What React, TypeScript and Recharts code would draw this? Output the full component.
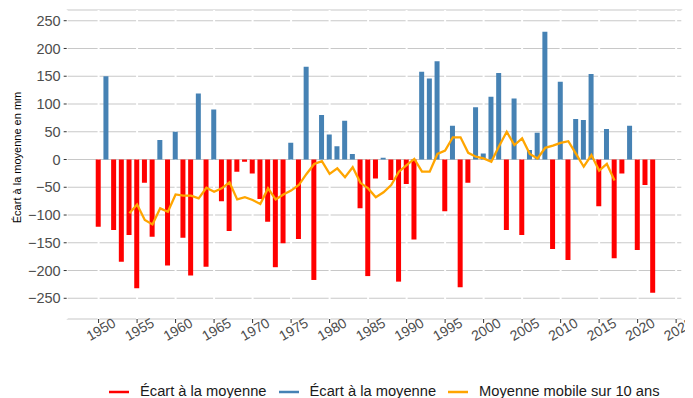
import React from 'react';
import { ComposedChart, Bar, Line, XAxis, YAxis, CartesianGrid, Legend } from 'recharts';

const FONT = '"Liberation Sans", Arial, Helvetica, sans-serif';

// Années (catégories) et écart à la moyenne en mm
const years = [
  1950, 1951, 1952, 1953, 1954, 1955, 1956, 1957, 1958, 1959,
  1960, 1961, 1962, 1963, 1964, 1965, 1966, 1967, 1968, 1969,
  1970, 1971, 1972, 1973, 1974, 1975, 1976, 1977, 1978, 1979,
  1980, 1981, 1982, 1983, 1984, 1985, 1986, 1987, 1988, 1989,
  1990, 1991, 1992, 1993, 1994, 1995, 1996, 1997, 1998, 1999,
  2000, 2001, 2002, 2003, 2004, 2005, 2006, 2007, 2008, 2009,
  2010, 2011, 2012, 2013, 2014, 2015, 2016, 2017, 2018, 2019,
  2020, 2021, 2022,
];

const ecart = [
  -121, 150, -127, -184, -136, -232, -42, -139, 35, -191,
  50, -141, -209, 119, -193, 90, -75, -129, -22, -4,
  -25, -71, -112, -194, -151, 30, -143, 167, -217, 80,
  45, 24, 70, 10, -88, -210, -34, 3, -37, -220,
  -44, -144, 158, 146, 177, -93, 61, -230, -42, 94,
  11, 113, 156, -127, 110, -136, 17, 48, 230, -161,
  140, -181, 73, 71, 154, -84, 55, -178, -25, 61,
  -163, -46, -240,
];

// Moyenne mobile sur 10 ans
const maYears = [
  1954, 1955, 1956, 1957, 1958, 1959, 1960, 1961, 1962, 1963,
  1964, 1965, 1966, 1967, 1968, 1969, 1970, 1971, 1972, 1973,
  1974, 1975, 1976, 1977, 1978, 1979, 1980, 1981, 1982, 1983,
  1984, 1985, 1986, 1987, 1988, 1989, 1990, 1991, 1992, 1993,
  1994, 1995, 1996, 1997, 1998, 1999, 2000, 2001, 2002, 2003,
  2004, 2005, 2006, 2007, 2008, 2009, 2010, 2011, 2012, 2013,
  2014, 2015, 2016, 2017,
];

const movingAvg = [
  -97, -81, -109, -117, -88, -94, -63, -65, -65, -70,
  -51, -58, -52, -41, -72, -68, -73, -80, -52, -72,
  -63, -56, -46, -26, -8, -3, -26, -16, -32, -14,
  -42, -52, -68, -59, -46, -22, -10, 1, -22, -22,
  10, 16, 40, 40, 12, 5, 2, -4, 24, 50,
  26, 38, 10, 2, 21, 25, 30, 33, 10, -13,
  8, -20, -8, -38,
];

const xTicks = [1950, 1955, 1960, 1965, 1970, 1975, 1980, 1985, 1990, 1995, 2000, 2005, 2010, 2015, 2020, 2025];
const yTicks = [-250, -200, -150, -100, -50, 0, 50, 100, 150, 200, 250];

const NEG = { name: 'Écart à la moyenne', color: '#FF0000' };
const POS = { name: 'Écart à la moyenne', color: '#4682B4' };
const MA = { name: 'Moyenne mobile sur 10 ans', color: '#FFA500' };
const legendItems = [NEG, POS, MA];

const yTitle = 'Écart à la moyenne en mm';

const data = years.map((year, i) => {
  const v = ecart[i];
  const j = maYears.indexOf(year);
  return {
    year,
    neg: v < 0 ? v : null,
    pos: v >= 0 ? v : null,
    ma: j >= 0 ? movingAvg[j] : null,
  };
});

const XTick = (props: any) => {
  const { x, y, payload } = props;
  const cx = x + 2.3;
  const cy = y + 4.2;
  return (
    <text
      x={cx}
      y={cy}
      textAnchor="middle"
      dominantBaseline="central"
      transform={`rotate(-30 ${cx} ${cy})`}
      fill="#4d4d4d"
      fontSize={14}
      fontFamily={FONT}
    >
      {payload.value}
    </text>
  );
};

const fmtY = (v: number) => (v < 0 ? `\u2212${Math.abs(v)}` : `${v}`);

const YTitle = (props: any) => {
  const vb = props.viewBox || { x: 0, y: 0, width: 0, height: 0 };
  const tx = vb.x + 9;
  const ty = vb.y + vb.height / 2 - 7;
  return (
    <text
      x={tx}
      y={ty}
      textAnchor="middle"
      dominantBaseline="central"
      transform={`rotate(-90 ${tx} ${ty})`}
      fontSize={11}
      fontFamily={FONT}
      fill="#000"
    >
      {yTitle}
    </text>
  );
};

const LegendContent = () => (
  <div
    style={{
      display: 'flex',
      alignItems: 'center',
      height: 13,
      paddingLeft: 101,
      fontFamily: FONT,
      fontSize: 14.7,
      color: '#1a1a1a',
      whiteSpace: 'nowrap',
      overflow: 'visible',
    }}
  >
    {legendItems.map((it, i) => (
      <div key={i} style={{ display: 'flex', alignItems: 'center', marginRight: 12 }}>
        <svg width={20} height={4} style={{ display: 'block' }}>
          <line x1={0} y1={2} x2={20} y2={2} stroke={it.color} strokeWidth={2.5} />
        </svg>
        <span style={{ marginLeft: 11, lineHeight: '13px' }}>{it.name}</span>
      </div>
    ))}
  </div>
);

export default function App() {
  return (
    <ComposedChart
      width={685}
      height={390}
      data={data}
      margin={{ top: 2, right: 10.7, left: 0, bottom: 0 }}
    >
      <CartesianGrid vertical={false} stroke="#c8c8c8" strokeWidth={1.1} />
      <CartesianGrid horizontal={false} stroke="#ffffff" strokeWidth={2} />
      <XAxis
        dataKey="year"
        type="number"
        domain={[1945.86, 2025.8]}
        allowDataOverflow
        ticks={xTicks}
        interval={0}
        height={66}
        tickSize={4}
        tickMargin={2}
        axisLine={false}
        tickLine={{ stroke: '#333333' }}
        tick={<XTick />}
      />
      <YAxis
        type="number"
        domain={[-287.3, 269.3]}
        allowDataOverflow
        ticks={yTicks}
        interval={0}
        width={58.7}
        tickSize={3}
        tickMargin={3}
        axisLine={false}
        tickLine={{ stroke: '#333333' }}
        tick={{ fill: '#4d4d4d', fontSize: 14.5, fontFamily: FONT }}
        tickFormatter={fmtY}
        label={{ content: <YTitle /> }}
      />
      <Bar dataKey="neg" name={NEG.name} fill={NEG.color} stackId="e" barSize={5} isAnimationActive={false} />
      <Bar dataKey="pos" name={POS.name} fill={POS.color} stackId="e" barSize={5} isAnimationActive={false} />
      <Line
        dataKey="ma"
        name={MA.name}
        stroke={MA.color}
        strokeWidth={2.3}
        dot={false}
        activeDot={false}
        isAnimationActive={false}
      />
      <Legend
        verticalAlign="bottom"
        content={<LegendContent />}
        wrapperStyle={{ left: 0, width: 685, bottom: 0 }}
      />
    </ComposedChart>
  );
}
